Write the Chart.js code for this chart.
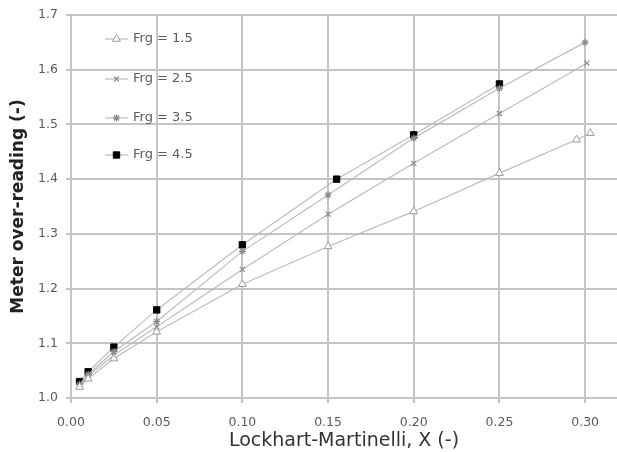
<!DOCTYPE html>
<html>
<head>
<meta charset="utf-8">
<script src="https://cdn.jsdelivr.net/npm/chart.js@4/dist/chart.umd.min.js"></script>
<style>
html,body{margin:0;padding:0;background:#fff;}
#wrap{width:617px;height:452px;position:relative;}
</style>
</head>
<body>
<div id="wrap"><canvas id="c" width="617" height="452"></canvas></div>
<script>
// ---- data ----
const seriesNames = ["Frg = 1.5", "Frg = 2.5", "Frg = 3.5", "Frg = 4.5"];
const x15 = [0.005, 0.010, 0.025, 0.050, 0.100, 0.150, 0.200, 0.250, 0.295, 0.303];
const y15 = [1.020, 1.035, 1.072, 1.121, 1.208, 1.277, 1.341, 1.411, 1.472, 1.484];
const x25 = [0.005, 0.010, 0.025, 0.050, 0.100, 0.150, 0.200, 0.250, 0.301];
const y25 = [1.022, 1.040, 1.078, 1.130, 1.235, 1.336, 1.429, 1.520, 1.612];
const x35 = [0.005, 0.010, 0.025, 0.050, 0.100, 0.150, 0.200, 0.250, 0.300];
const y35 = [1.025, 1.043, 1.085, 1.140, 1.268, 1.371, 1.475, 1.566, 1.650];
const x45 = [0.005, 0.010, 0.025, 0.050, 0.100, 0.155, 0.200, 0.250];
const y45 = [1.030, 1.048, 1.093, 1.161, 1.280, 1.400, 1.481, 1.574];
const xTicks = [0.00, 0.05, 0.10, 0.15, 0.20, 0.25, 0.30];
const yTicks = [1.0, 1.1, 1.2, 1.3, 1.4, 1.5, 1.6, 1.7];
const xTitle = "Lockhart-Martinelli, X (-)";
const yTitle = "Meter over-reading (-)";

function pts(xs, ys){ return xs.map((x,i)=>({x:x, y:ys[i]})); }

const styles = [
  {pointStyle:'triangle', pointRadius:4.5, pointBorderColor:'#9a9a9a', pointBackgroundColor:'#ffffff', pointBorderWidth:1},
  {pointStyle:'crossRot', pointRadius:3.5, pointBorderColor:'#8a8a8a', pointBackgroundColor:'#8a8a8a', pointBorderWidth:1.2},
  {pointStyle:'star', pointRadius:3.5, pointBorderColor:'#8a8a8a', pointBackgroundColor:'#8a8a8a', pointBorderWidth:1.2},
  {pointStyle:'rect', pointRadius:4.5, pointBorderColor:'#000000', pointBackgroundColor:'#000000', pointBorderWidth:1}
];
const allData = [pts(x15,y15), pts(x25,y25), pts(x35,y35), pts(x45,y45)];

const datasets = allData.map((d,i)=>Object.assign({
  label: seriesNames[i],
  data: d,
  showLine: true,
  borderColor: '#bcbcbc',
  borderWidth: 1.2,
  tension: 0,
  fill: false
}, styles[i]));

const legendPlugin = {
  id: 'inLegend',
  afterDatasetsDraw(chart){
    const ctx = chart.ctx;
    const rows = [39, 79, 118, 155];
    ctx.save();
    chart.data.datasets.forEach((ds,i)=>{
      const y = rows[i];
      ctx.strokeStyle = ds.borderColor;
      ctx.lineWidth = 1.2;
      ctx.beginPath(); ctx.moveTo(105, y); ctx.lineTo(128, y); ctx.stroke();
      ctx.strokeStyle = ds.pointBorderColor;
      ctx.fillStyle = ds.pointBackgroundColor;
      ctx.lineWidth = ds.pointBorderWidth;
      Chart.helpers.drawPoint(ctx, {pointStyle: ds.pointStyle, radius: ds.pointRadius, rotation: 0, borderWidth: ds.pointBorderWidth}, 116.5, y);
      ctx.fillStyle = '#5a5a5a';
      ctx.font = '13px "DejaVu Sans"';
      ctx.textBaseline = 'middle';
      ctx.textAlign = 'left';
      ctx.fillText(ds.label, 133, y);
    });
    ctx.restore();
  }
};

new Chart(document.getElementById('c'), {
  type: 'scatter',
  data: { datasets },
  plugins: [legendPlugin],
  options: {
    responsive: false,
    animation: false,
    layout: { autoPadding: false, padding: { top: 15, right: 0, left: 0, bottom: 0 } },
    plugins: { legend: { display: false }, tooltip: { enabled: false } },
    scales: {
      x: {
        type: 'linear', min: 0, max: 0.3186,
        afterBuildTicks(s){ s.ticks = xTicks.map(v=>({value:v})); },
        afterFit(s){ s.height = 54; s.paddingRight = 0; s.paddingLeft = 0; },
        grid: { color: '#c4c4c4', lineWidth: 2, tickLength: 5, drawTicks: true },
        border: { display: true, color: '#c4c4c4', width: 2 },
        ticks: { color: '#5a5a5a', font: { family: 'DejaVu Sans', size: 12.5 }, padding: 12, maxRotation: 0,
                 callback: v => v.toFixed(2) },
        title: { display: true, text: xTitle, color: '#333', font: { family: 'DejaVu Sans', size: 19 }, padding: { top: 0, bottom: 0 } }
      },
      y: {
        type: 'linear', min: 1.0, max: 1.7,
        afterBuildTicks(s){ s.ticks = yTicks.map(v=>({value:v})); },
        afterFit(s){ s.width = 71; s.paddingTop = 0; s.paddingBottom = 0; },
        grid: { color: '#c4c4c4', lineWidth: 2, tickLength: 5, drawTicks: true },
        border: { display: true, color: '#c4c4c4', width: 2 },
        ticks: { color: '#5a5a5a', font: { family: 'DejaVu Sans', size: 12.5 }, padding: 8,
                 callback: v => v.toFixed(1) },
        title: { display: true, text: yTitle, color: '#222', font: { family: 'DejaVu Sans', size: 17, weight: 'bold' }, padding: { top: 8, bottom: 0 } }
      }
    }
  }
});
</script>
</body>
</html>
